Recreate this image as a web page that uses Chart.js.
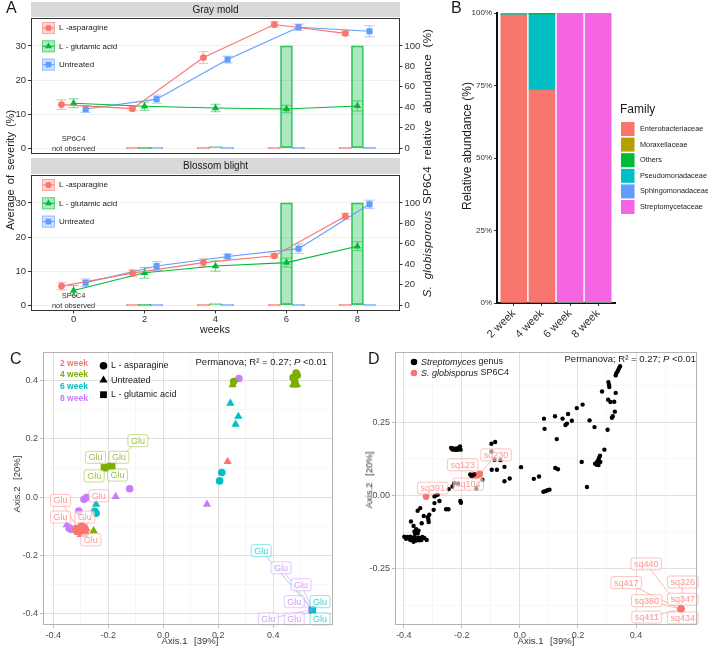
<!DOCTYPE html>
<html>
<head>
<meta charset="utf-8">
<title>SP6C4 severity and community</title>
<script src="https://cdn.jsdelivr.net/npm/chart.js@4.4.1/dist/chart.umd.min.js"></script>
<style>
  body { margin: 0; background: #fff; font-family: "Liberation Sans", Arial, sans-serif; }
  #page { position: relative; width: 708px; height: 647px; overflow: hidden; }
  canvas { position: absolute; }
  .lbl { position: absolute; white-space: nowrap; color: #1a1a1a; line-height: 1; }
  .tag { font-size: 16px; }
  .mid { transform: translate(-50%, -50%); }
  .rot { transform: translate(-50%, -50%) rotate(-90deg); }
</style>
</head>
<body>
<div id="page">
  <canvas id="grayMold" width="440" height="162" style="left:0;top:0"></canvas>
  <canvas id="blossom" width="440" height="174" style="left:0;top:156px"></canvas>
  <canvas id="family" width="268" height="340" style="left:440px;top:0"></canvas>
  <canvas id="pcoaC" width="354" height="307" style="left:0;top:340px"></canvas>
  <canvas id="pcoaD" width="354" height="307" style="left:354px;top:340px"></canvas>

  <div class="lbl tag" style="left:6px;top:0">A</div>
  <div class="lbl tag" style="left:451px;top:0">B</div>
  <div class="lbl tag" style="left:10px;top:351px">C</div>
  <div class="lbl tag" style="left:368px;top:351px">D</div>

  <div class="lbl rot" style="left:10px;top:170px;font-size:11px;word-spacing:2px">Average of severity (%)</div>
  <div class="lbl rot" style="left:428px;top:163px;font-size:11.5px;word-spacing:3px;letter-spacing:0.3px"><i>S. globisporous</i> SP6C4 relative abundance (%)</div>
  <div class="lbl mid" style="left:215px;top:329px;font-size:10.5px">weeks</div>
  <div class="lbl rot" style="left:467px;top:146px;font-size:12px">Relative abundance (%)</div>

  <div class="lbl mid" style="left:190px;top:641px;font-size:9.5px;color:#333;word-spacing:4px">Axis.1 [39%]</div>
  <div class="lbl rot" style="left:17px;top:484px;font-size:9.5px;color:#333;word-spacing:4px">Axis.2 [20%]</div>
  <div class="lbl mid" style="left:546px;top:641px;font-size:9.5px;color:#333;word-spacing:4px">Axis.1 [39%]</div>
  <div class="lbl rot" style="left:369px;top:480px;font-size:9.5px;color:#333;word-spacing:4px">Axis.2 [20%]</div>
</div>

<script>
const FONT = '"Liberation Sans", Arial, sans-serif';
Chart.defaults.font.family = FONT;

// ---------- A: disease severity (left axis) and SP6C4 abundance (right axis)
const weeks = [0, 2, 4, 6, 8];
const treatments = ['L -asparagine', 'L - glutamic acid', 'Untreated'];

const grayAsn = [12.8, 11.6, 26.6, 36.3, 33.7];
const grayGlu = [13.2, 12.3, 11.8, 11.5, 12.4];
const grayUnt = [11.5, 14.4, 26.0, 35.5, 34.3];
const grayAsnSe = [1.4, 0.6, 1.7, 0.8, 0.7];
const grayGluSe = [1.3, 1.2, 1.1, 1.1, 1.5];
const grayUntSe = [1.0, 1.2, 1.0, 0.9, 1.6];

const blossomAsn = [5.6, 9.4, 12.5, 14.5, 26.1];
const blossomGlu = [4.3, 9.5, 11.5, 12.5, 17.3];
const blossomUnt = [6.6, 11.5, 14.3, 16.6, 29.6];
const blossomAsnSe = [1.1, 1.0, 1.1, 0.6, 0.9];
const blossomGluSe = [1.5, 1.6, 1.5, 1.3, 1.3];
const blossomUntSe = [1.1, 1.3, 0.6, 1.4, 1.2];

const abundWeeks = [2, 4, 6, 8];
const abundAsn = [0, 0, 0, 0];
const abundGlu = [0, 1, 100, 100];
const abundUnt = [0, 0, 0, 0];

const severityTicks = [0, 10, 20, 30];
const abundanceTicks = [0, 20, 40, 60, 80, 100];

// ---------- B: family composition
const sampleWeeks = ['2 week', '4 week', '6 week', '8 week'];
const families = ['Enterobacteriaceae', 'Moraxellaceae', 'Others', 'Pseudomonadaceae', 'Sphingomonadaceae', 'Streptomycetaceae'];
const enterobacteriaceae = [99.3, 73.4, 0, 0];
const moraxellaceae = [0.05, 0.05, 0, 0];
const others = [0.05, 0.5, 0, 0];
const pseudomonadaceae = [0.1, 26.0, 0, 0];
const sphingomonadaceae = [0.5, 0.05, 0, 0];
const streptomycetaceae = [0, 0, 100, 100];
const percentTicks = [0, 25, 50, 75, 100];

// ---------- C: PCoA of samples  [axis1, axis2, treatment]
const cWeek2 = [
  [0.234, 0.122, 'Unt'],
  [-0.310, -0.121, 'Unt'], [-0.300, -0.128, 'Unt'], [-0.288, -0.118, 'Unt'], [-0.279, -0.108, 'Unt'],
  [-0.302, -0.112, 'Asn'], [-0.290, -0.104, 'Asn'], [-0.318, -0.113, 'Asn'], [-0.296, -0.097, 'Asn'], [-0.284, -0.125, 'Asn'],
  [-0.305, -0.115, 'Glu'], [-0.284, -0.113, 'Glu'], [-0.312, -0.106, 'Glu'], [-0.292, -0.121, 'Glu'], [-0.298, -0.108, 'Glu']
];
const cWeek4 = [
  [0.483, 0.426, 'Asn'], [0.472, 0.410, 'Asn'], [0.478, 0.398, 'Asn'], [0.487, 0.418, 'Asn'], [0.256, 0.397, 'Asn'],
  [0.472, 0.386, 'Unt'], [0.486, 0.386, 'Unt'], [0.478, 0.384, 'Unt'], [0.252, 0.385, 'Unt'], [-0.253, -0.115, 'Unt'],
  [-0.186, 0.107, 'Glu'], [-0.215, 0.102, 'Glu'], [-0.192, 0.106, 'Glu'], [-0.210, 0.100, 'Glu'], [-0.199, 0.104, 'Glu']
];
const cWeek6 = [
  [0.244, 0.322, 'Unt'], [0.273, 0.277, 'Unt'], [0.263, 0.250, 'Unt'], [-0.244, -0.024, 'Unt'],
  [0.213, 0.085, 'Asn'], [0.205, 0.056, 'Asn'], [-0.244, -0.055, 'Asn'], [-0.249, -0.048, 'Asn'],
  [0.541, -0.385, 'Glu'], [0.543, -0.387, 'Glu'], [0.542, -0.386, 'Glu']
];
const cWeek8 = [
  [0.275, 0.407, 'Asn'], [-0.122, 0.029, 'Asn'], [-0.288, -0.007, 'Asn'], [-0.279, -0.001, 'Asn'],
  [-0.307, -0.047, 'Asn'], [-0.336, -0.110, 'Asn'], [-0.342, -0.106, 'Asn'],
  [-0.173, 0.002, 'Unt'], [0.159, -0.024, 'Unt'], [-0.351, -0.095, 'Unt'],
  [0.542, -0.386, 'Glu'], [0.543, -0.385, 'Glu'], [0.541, -0.387, 'Glu'], [0.542, -0.385, 'Glu'], [0.543, -0.387, 'Glu']
];
const cWeekNames = ['2 week', '4 week', '6 week', '8 week'];
const cTreatNames = ['L - asparagine', 'Untreated', 'L - glutamic acid'];

// ---------- D: PCoA of ASVs
const streptomyces = [
  [0.345, 0.442], [0.342, 0.436], [0.339, 0.430], [0.336, 0.424], [0.332, 0.418], [0.330, 0.411],
  [0.305, 0.388], [0.307, 0.379], [0.308, 0.371], [0.283, 0.356], [0.330, 0.351],
  [0.304, 0.328], [0.312, 0.320], [0.325, 0.321], [0.327, 0.287], [0.317, 0.266], [0.320, 0.271],
  [0.302, 0.225], [0.291, 0.157],
  [0.276, 0.136], [0.273, 0.129], [0.270, 0.122], [0.266, 0.115], [0.263, 0.109], [0.277, 0.115],
  [0.271, 0.104], [0.259, 0.109], [0.265, 0.105],
  [0.216, 0.311], [0.196, 0.299], [0.166, 0.279], [0.121, 0.271], [0.147, 0.263], [0.179, 0.256],
  [0.162, 0.246], [0.157, 0.241], [0.240, 0.257], [0.257, 0.234],
  [0.083, 0.263], [0.085, 0.228], [0.127, 0.193], [0.213, 0.115], [0.122, 0.094], [0.131, 0.090], [0.231, 0.029],
  [0.081, 0.013], [0.088, 0.015], [0.095, 0.018], [0.102, 0.020],
  [0.048, 0.057], [0.066, 0.065], [0.004, 0.097],
  [-0.053, 0.049], [-0.035, 0.058], [-0.053, 0.098],
  [-0.098, 0.177], [-0.085, 0.183], [-0.087, 0.122], [-0.067, 0.121], [-0.097, 0.088], [-0.079, 0.088],
  [-0.098, 0.151], [-0.129, 0.054], [-0.150, 0.025], [-0.213, 0.041],
  [-0.237, 0.163], [-0.233, 0.158], [-0.228, 0.157], [-0.223, 0.160], [-0.218, 0.160], [-0.213, 0.162],
  [-0.209, 0.164], [-0.206, 0.168], [-0.204, 0.157], [-0.231, 0.161], [-0.220, 0.156], [-0.214, 0.157],
  [-0.171, 0.072], [-0.166, 0.066], [-0.161, 0.070], [-0.157, 0.073],
  [-0.226, 0.042], [-0.232, 0.031], [-0.245, 0.022],
  [-0.294, -0.003], [-0.288, 0.001], [-0.283, 0.003], [-0.277, -0.019], [-0.294, -0.026],
  [-0.205, -0.019], [-0.203, -0.025], [-0.254, -0.047], [-0.246, -0.047],
  [-0.343, -0.043], [-0.352, -0.052], [-0.297, -0.049], [-0.331, -0.070],
  [-0.317, -0.074], [-0.312, -0.066], [-0.315, -0.083], [-0.314, -0.091],
  [-0.375, -0.089], [-0.338, -0.095], [-0.366, -0.104],
  [-0.357, -0.115], [-0.349, -0.120], [-0.363, -0.123], [-0.361, -0.131], [-0.352, -0.129],
  [-0.398, -0.141], [-0.392, -0.148], [-0.387, -0.142], [-0.380, -0.147], [-0.377, -0.141], [-0.377, -0.152],
  [-0.370, -0.145], [-0.366, -0.150], [-0.366, -0.158], [-0.363, -0.143], [-0.357, -0.154], [-0.356, -0.147],
  [-0.352, -0.151], [-0.349, -0.144], [-0.346, -0.153], [-0.343, -0.147], [-0.339, -0.152], [-0.336, -0.142],
  [-0.329, -0.145], [-0.321, -0.152]
];
const sp6c4 = [
  [-0.323, -0.004], [-0.146, 0.070], [-0.138, 0.074], [-0.153, 0.066],
  [0.555, -0.388], [0.556, -0.387], [0.554, -0.389], [0.555, -0.387], [0.554, -0.388], [0.556, -0.389], [0.555, -0.389]
];
const sp6c4Ids = ['sq391', 'sq123', 'sq230', 'sq104', 'sq440', 'sq326', 'sq417', 'sq347', 'sq380', 'sq411', 'sq434'];

// ---------- layout / style (not data)
const trtColors = ['#F8766D', '#00BA38', '#619CFF'];
const trtShapes = ['circle', 'triangle', 'rect'];
const trtRadius = [3.4, 4.3, 4.3];
const dodge = [-0.34, 0, 0.34];
const familyColors = ['#F8766D', '#B79F00', '#00BA38', '#00BFC4', '#619CFF', '#F564E3'];
const stackOrder = [0, 3, 2, 1, 4, 5];
const weekColors = ['#F8766D', '#7CAE00', '#00BFC4', '#C77CFF'];
const cLabelPos = [
  [[-0.373, -0.011], [-0.234, 0.005], [-0.373, -0.068], [-0.285, -0.068], [-0.263, -0.146]],
  [[-0.092, 0.194], [-0.246, 0.137], [-0.161, 0.137], [-0.251, 0.073], [-0.166, 0.076]],
  [[0.356, -0.183], [0.570, -0.358], [0.570, -0.417]],
  [[0.428, -0.242], [0.501, -0.300], [0.476, -0.358], [0.382, -0.417], [0.476, -0.417]]
];
const sp6c4LabelPos = [
  [-0.300, 0.025], [-0.197, 0.105], [-0.082, 0.139], [-0.178, 0.039],
  [0.435, -0.234], [0.561, -0.296], [0.366, -0.298], [0.561, -0.355], [0.437, -0.360], [0.437, -0.416], [0.561, -0.419]
];

function rgba(hex, a) {
  const n = parseInt(hex.slice(1), 16);
  return `rgba(${n >> 16},${(n >> 8) & 255},${n & 255},${a})`;
}
function fixTicks(vals) {
  return s => { s.ticks = vals.map(v => ({ value: v })); };
}
function near(list, v) {
  return list.some(m => Math.abs(m - v) < 1e-9);
}

// ---------- plugins
const errorBars = {
  id: 'errorBars',
  beforeDatasetsDraw(chart) {
    const { ctx, scales } = chart;
    ctx.save();
    chart.data.datasets.forEach(ds => {
      if (!ds.errors) return;
      ctx.strokeStyle = rgba(ds.borderColor, 0.55);
      ctx.lineWidth = 1;
      ds.data.forEach((p, i) => {
        const x = scales.x.getPixelForValue(p.x);
        const y1 = scales.y.getPixelForValue(p.y - ds.errors[i]);
        const y2 = scales.y.getPixelForValue(p.y + ds.errors[i]);
        ctx.beginPath();
        ctx.moveTo(x, y1); ctx.lineTo(x, y2);
        ctx.moveTo(x - 5, y1); ctx.lineTo(x + 5, y1);
        ctx.moveTo(x - 5, y2); ctx.lineTo(x + 5, y2);
        ctx.stroke();
      });
    });
    ctx.restore();
  }
};

const facetDecor = {
  id: 'facetDecor',
  afterDraw(chart, args, o) {
    const { ctx, chartArea: a, scales } = chart;
    ctx.save();
    ctx.fillStyle = '#d9d9d9';
    ctx.fillRect(a.left, o.stripTop, a.right - a.left, a.top - o.stripTop - 1);
    ctx.fillStyle = '#1a1a1a';
    ctx.font = `10px ${FONT}`;
    ctx.textAlign = 'center';
    ctx.textBaseline = 'middle';
    ctx.fillText(o.title, (a.left + a.right) / 2, (o.stripTop + a.top) / 2);
    ctx.strokeStyle = '#333';
    ctx.lineWidth = 1;
    ctx.strokeRect(a.left + 0.5, a.top + 0.5, a.right - a.left - 1, a.bottom - a.top - 1);

    // legend inside the panel
    treatments.forEach((name, k) => {
      const cy = a.top + 10 + k * 18.3;
      const bx = a.left + 11;
      ctx.fillStyle = rgba(trtColors[k], 0.3);
      ctx.strokeStyle = rgba(trtColors[k], 0.5);
      ctx.fillRect(bx, cy - 6, 13, 12);
      ctx.strokeRect(bx + 0.5, cy - 5.5, 12, 11);
      ctx.strokeStyle = trtColors[k];
      ctx.beginPath(); ctx.moveTo(bx + 1, cy); ctx.lineTo(bx + 12, cy); ctx.stroke();
      ctx.fillStyle = trtColors[k];
      Chart.helpers.drawPoint(ctx, { pointStyle: trtShapes[k], radius: trtRadius[k] - 0.3, rotation: 0, borderWidth: 0 }, bx + 6.5, cy);
      ctx.fillStyle = '#1a1a1a';
      ctx.font = `8px ${FONT}`;
      ctx.textAlign = 'left';
      ctx.fillText(name, bx + 17, cy);
    });

    // note at week 0
    const x0 = scales.x.getPixelForValue(0);
    const y0 = scales.y.getPixelForValue(0);
    ctx.fillStyle = '#333';
    ctx.font = `7.5px ${FONT}`;
    ctx.textAlign = 'center';
    ctx.fillText('SP6C4', x0, y0 - 9.5);
    ctx.fillText('not observed', x0, y0 + 0.5);
    ctx.restore();
  }
};

function severityChart(id, title, series, errs, abund, showX) {
  const datasets = [];
  treatments.forEach((name, k) => {
    datasets.push({
      type: 'line', label: name, order: 1,
      data: weeks.map((w, i) => ({ x: w + dodge[k], y: series[k][i] })),
      errors: errs[k],
      borderColor: trtColors[k], borderWidth: 1.1, tension: 0,
      pointStyle: trtShapes[k], pointRadius: trtRadius[k],
      pointBackgroundColor: trtColors[k], pointBorderWidth: 0,
      yAxisID: 'y'
    });
  });
  treatments.forEach((name, k) => {
    datasets.push({
      type: 'bar', label: name + ' abundance', order: 2,
      data: abundWeeks.map((w, i) => ({ x: w + dodge[k], y: abund[k][i] })),
      backgroundColor: rgba(trtColors[k], 0.32),
      borderColor: rgba(trtColors[k], 0.8),
      borderWidth: 1, borderSkipped: false,
      barThickness: 12, grouped: false, minBarLength: 1.5,
      yAxisID: 'y2'
    });
  });
  const tickFont = { size: 9.5, family: FONT };
  return new Chart(document.getElementById(id), {
    type: 'line',
    data: { datasets },
    plugins: [errorBars, facetDecor],
    options: {
      responsive: false, animation: false, events: [],
      layout: { padding: { top: showX ? 19 : 18, bottom: showX ? 0 : 8, left: 0, right: 0 } },
      plugins: {
        legend: { display: false }, tooltip: { enabled: false },
        facetDecor: { title, stripTop: 2 }
      },
      scales: {
        x: {
          type: 'linear', min: -1.2, max: 9.2, display: showX, offset: false,
          afterBuildTicks: fixTicks(weeks),
          afterFit: s => { s.height = showX ? 19 : 0; },
          grid: { drawOnChartArea: false, offset: false, tickLength: 2.5, tickColor: '#333' },
          border: { display: false },
          ticks: { color: '#333', font: tickFont, padding: 0, maxRotation: 0 }
        },
        y: {
          position: 'left', min: -1.7, max: 38.2,
          afterBuildTicks: fixTicks(severityTicks),
          afterFit: s => { s.width = 31; },
          grid: { color: '#efefef', tickLength: 3, tickColor: '#333' },
          border: { display: false },
          ticks: { color: '#333', font: tickFont, padding: 2 }
        },
        y2: {
          position: 'right', min: -5.67, max: 127.3,
          afterBuildTicks: fixTicks(abundanceTicks),
          afterFit: s => { s.width = 40; },
          grid: { drawOnChartArea: false, tickLength: 2.5, tickColor: '#333' },
          border: { display: false },
          ticks: { color: '#333', font: tickFont, padding: 2 }
        }
      }
    }
  });
}

severityChart('grayMold', 'Gray mold',
  [grayAsn, grayGlu, grayUnt], [grayAsnSe, grayGluSe, grayUntSe],
  [abundAsn, abundGlu, abundUnt], false);
severityChart('blossom', 'Blossom blight',
  [blossomAsn, blossomGlu, blossomUnt], [blossomAsnSe, blossomGluSe, blossomUntSe],
  [abundAsn, abundGlu, abundUnt], true);

// ---------- B
const familyValues = [enterobacteriaceae, moraxellaceae, others, pseudomonadaceae, sphingomonadaceae, streptomycetaceae];
const familyLegend = {
  id: 'familyLegend',
  afterDraw(chart) {
    const ctx = chart.ctx;
    ctx.save();
    ctx.textBaseline = 'middle';
    ctx.textAlign = 'left';
    ctx.fillStyle = '#1a1a1a';
    ctx.font = `12px ${FONT}`;
    ctx.fillText('Family', 180, 110);
    families.forEach((f, i) => {
      const cy = 129 + i * 15.6;
      ctx.fillStyle = familyColors[i];
      ctx.fillRect(181, cy - 7, 13.5, 14);
      ctx.fillStyle = '#1a1a1a';
      ctx.font = `7.3px ${FONT}`;
      ctx.fillText(f, 200, cy);
    });
    ctx.restore();
  }
};
new Chart(document.getElementById('family'), {
  type: 'bar',
  data: {
    datasets: families.map((f, i) => ({
      label: f,
      data: familyValues[i].map((v, j) => ({ x: j + 1, y: v })),
      backgroundColor: familyColors[i],
      borderWidth: 0,
      barThickness: 26, grouped: false,
      order: stackOrder[i],
      stack: 'all'
    }))
  },
  plugins: [familyLegend],
  options: {
    responsive: false, animation: false, events: [],
    layout: { padding: { top: 13, right: 93, left: 0, bottom: 0 } },
    plugins: { legend: { display: false }, tooltip: { enabled: false } },
    scales: {
      x: {
        type: 'linear', min: 0.4, max: 4.6, offset: false,
        afterBuildTicks: fixTicks([1, 2, 3, 4]),
        afterFit: s => { s.height = 37; },
        grid: { drawOnChartArea: false, offset: false, tickLength: 3, tickColor: '#333' },
        border: { display: true, color: '#111', width: 2 },
        ticks: { color: '#333', font: { size: 11 }, minRotation: 45, maxRotation: 45, padding: 1,
                 callback: v => sampleWeeks[v - 1] }
      },
      y: {
        stacked: true, min: 0, max: 100,
        afterBuildTicks: fixTicks(percentTicks),
        afterFit: s => { s.width = 57; },
        grid: { drawOnChartArea: false, tickLength: 3, tickColor: '#333' },
        border: { display: true, color: '#111', width: 2 },
        ticks: { color: '#333', font: { size: 8 }, padding: 2, callback: v => v + '%' }
      }
    }
  }
});

// ---------- C and D shared pieces
function pcoaScale(min, max, majors, minors, digits, fit) {
  const all = majors.concat(minors).sort((a, b) => a - b);
  return {
    type: 'linear', min, max,
    afterBuildTicks: fixTicks(all),
    afterFit: fit,
    grid: {
      color: c => near(majors, c.tick.value) ? '#dcdcdc' : '#efefef',
      lineWidth: c => near(majors, c.tick.value) ? 0.9 : 0.5,
      tickLength: 3,
      tickColor: c => near(majors, c.tick.value) ? '#b3b3b3' : 'rgba(0,0,0,0)'
    },
    border: { display: false },
    ticks: {
      autoSkip: false, maxRotation: 0, color: '#4d4d4d', font: { size: 9 }, padding: 2,
      callback: v => near(majors, v) ? v.toFixed(digits) : ''
    }
  };
}

const panelBorder = {
  id: 'panelBorder',
  afterDraw(chart) {
    const { ctx, chartArea: a } = chart;
    ctx.save();
    ctx.strokeStyle = '#b3b3b3';
    ctx.lineWidth = 1;
    ctx.strokeRect(a.left + 0.5, a.top + 0.5, a.right - a.left - 1, a.bottom - a.top - 1);
    ctx.restore();
  }
};

const repelLabels = {
  id: 'repelLabels',
  afterDatasetsDraw(chart, args, o) {
    const { ctx, scales: { x, y } } = chart;
    const items = o.items || [];
    ctx.save();
    ctx.font = o.font;
    items.forEach(it => {
      ctx.strokeStyle = rgba(it.color, 0.7);
      ctx.lineWidth = 0.7;
      ctx.beginPath();
      ctx.moveTo(x.getPixelForValue(it.px), y.getPixelForValue(it.py));
      ctx.lineTo(x.getPixelForValue(it.lx), y.getPixelForValue(it.ly));
      ctx.stroke();
    });
    ctx.textAlign = 'center';
    ctx.textBaseline = 'middle';
    items.forEach(it => {
      const lx = x.getPixelForValue(it.lx), ly = y.getPixelForValue(it.ly);
      const w = ctx.measureText(it.text).width + 6, h = 12;
      ctx.beginPath();
      ctx.roundRect(lx - w / 2, ly - h / 2, w, h, 2);
      ctx.fillStyle = 'rgba(255,255,255,0.6)';
      ctx.fill();
      ctx.strokeStyle = rgba(it.color, 0.55);
      ctx.lineWidth = 0.8;
      ctx.stroke();
      ctx.fillStyle = rgba(it.color, 0.75);
      ctx.fillText(it.text, lx, ly + 0.5);
    });
    ctx.restore();
  }
};

function permanova(ctx, right, y) {
  ctx.save();
  ctx.textBaseline = 'middle';
  ctx.textAlign = 'left';
  ctx.fillStyle = '#1a1a1a';
  const parts = [['Permanova; R\u00B2 = 0.27; ', ''], ['P', 'italic '], [' <0.01', '']];
  let w = 0;
  parts.forEach(p => { ctx.font = `${p[1]}9.5px ${FONT}`; w += ctx.measureText(p[0]).width; });
  let x = right - w;
  parts.forEach(p => {
    ctx.font = `${p[1]}9.5px ${FONT}`;
    ctx.fillText(p[0], x, y);
    x += ctx.measureText(p[0]).width;
  });
  ctx.restore();
}

// ---------- C
const treatShape = t => t === 'Asn' ? 'circle' : t === 'Unt' ? 'triangle' : 'rect';
const treatRadius = t => t === 'Asn' ? 3.8 : t === 'Unt' ? 4.8 : 4.8;
const cSets = [cWeek2, cWeek4, cWeek6, cWeek8];
const cLabelItems = [];
cSets.forEach((set, w) => {
  const glu = set.filter(s => s[2] === 'Glu');
  cLabelPos[w].forEach((p, i) => {
    cLabelItems.push({ text: 'Glu', px: glu[i][0], py: glu[i][1], lx: p[0], ly: p[1], color: weekColors[w] });
  });
});
const cLegend = {
  id: 'cLegend',
  afterDraw(chart) {
    const { ctx, chartArea: a } = chart;
    ctx.save();
    ctx.textBaseline = 'middle';
    ctx.textAlign = 'left';
    cWeekNames.forEach((n, i) => {
      ctx.fillStyle = weekColors[i];
      ctx.font = `bold 8.5px ${FONT}`;
      ctx.fillText(n, 60, a.top + 11.3 + i * 11.7);
    });
    ['circle', 'triangle', 'rect'].forEach((s, i) => {
      const cy = a.top + 13.7 + i * 14.5;
      ctx.fillStyle = '#000';
      Chart.helpers.drawPoint(ctx, { pointStyle: s, radius: s === 'circle' ? 3.8 : 4.8, rotation: 0, borderWidth: 0 }, 103.5, cy);
      ctx.fillStyle = '#1a1a1a';
      ctx.font = `9px ${FONT}`;
      ctx.fillText(cTreatNames[i], 111, cy);
    });
    ctx.restore();
    permanova(ctx, a.right - 6, a.top + 10.5);
  }
};
new Chart(document.getElementById('pcoaC'), {
  type: 'scatter',
  data: {
    datasets: cSets.map((set, w) => ({
      label: cWeekNames[w],
      data: set.map(s => ({ x: s[0], y: s[1], t: s[2] })),
      backgroundColor: weekColors[w],
      borderWidth: 0,
      pointStyle: c => treatShape(c.raw && c.raw.t),
      pointRadius: c => treatRadius(c.raw && c.raw.t)
    }))
  },
  plugins: [repelLabels, panelBorder, cLegend],
  options: {
    responsive: false, animation: false, events: [],
    layout: { padding: { top: 12, right: 21, left: 0, bottom: 0 } },
    plugins: {
      legend: { display: false }, tooltip: { enabled: false },
      repelLabels: { items: cLabelItems, font: `9px ${FONT}` }
    },
    scales: {
      x: pcoaScale(-0.437, 0.617, [-0.4, -0.2, 0, 0.2, 0.4], [-0.3, -0.1, 0.1, 0.3, 0.5], 1, s => { s.height = 22; }),
      y: pcoaScale(-0.438, 0.498, [-0.4, -0.2, 0, 0.2, 0.4], [-0.3, -0.1, 0.1, 0.3], 1, s => { s.width = 43; })
    }
  }
});

// ---------- D
const dLabelItems = sp6c4.map((p, i) => ({
  text: sp6c4Ids[i], px: p[0], py: p[1], lx: sp6c4LabelPos[i][0], ly: sp6c4LabelPos[i][1], color: '#F8766D'
}));
const dLegend = {
  id: 'dLegend',
  afterDraw(chart) {
    const { ctx, chartArea: a } = chart;
    const rows = [['#000', 'Streptomyces', ' genus'], ['#F8766D', 'S. globisporus', ' SP6C4']];
    ctx.save();
    ctx.textBaseline = 'middle';
    ctx.textAlign = 'left';
    rows.forEach((r, i) => {
      const cy = a.top + 10 + i * 11;
      ctx.fillStyle = r[0];
      ctx.beginPath(); ctx.arc(60, cy, 3.3, 0, Math.PI * 2); ctx.fill();
      ctx.fillStyle = '#1a1a1a';
      ctx.font = `italic 9px ${FONT}`;
      ctx.fillText(r[1], 67, cy);
      const w = ctx.measureText(r[1]).width;
      ctx.font = `9px ${FONT}`;
      ctx.fillText(r[2], 67 + w, cy);
    });
    ctx.restore();
    permanova(ctx, a.right - 1, a.top + 7);
  }
};
new Chart(document.getElementById('pcoaD'), {
  type: 'scatter',
  data: {
    datasets: [
      { label: 'Streptomyces genus', data: streptomyces.map(p => ({ x: p[0], y: p[1] })),
        backgroundColor: '#000', borderWidth: 0, pointRadius: 2.2 },
      { label: 'S. globisporus SP6C4', data: sp6c4.map(p => ({ x: p[0], y: p[1] })),
        backgroundColor: '#F8766D', borderWidth: 0, pointRadius: 3.3 }
    ]
  },
  plugins: [repelLabels, panelBorder, dLegend],
  options: {
    responsive: false, animation: false, events: [],
    layout: { padding: { top: 12, right: 11, left: 0, bottom: 0 } },
    plugins: {
      legend: { display: false }, tooltip: { enabled: false },
      repelLabels: { items: dLabelItems, font: `9px ${FONT}` }
    },
    scales: {
      x: pcoaScale(-0.43, 0.61, [-0.4, -0.2, 0, 0.2, 0.4], [-0.3, -0.1, 0.1, 0.3, 0.5], 1, s => { s.height = 22; }),
      y: pcoaScale(-0.443, 0.491, [-0.25, 0, 0.25], [-0.375, -0.125, 0.125, 0.375], 2, s => { s.width = 41; })
    }
  }
});
</script>
</body>
</html>
